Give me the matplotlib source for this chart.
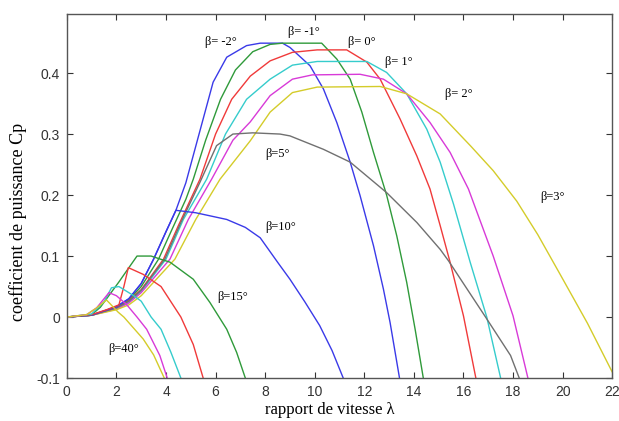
import matplotlib.pyplot as plt

# courbes Cp(lambda), une paire de listes par angle beta
lam_m2 = [0, 1, 2, 2.5, 3, 3.5, 4, 4.4, 4.8, 5.4, 5.9, 6.45, 7.25, 7.8, 8.7, 9.0, 9.81, 10.35, 10.89, 11.43, 11.83, 12.37, 12.77, 13.04, 13.42]
cp_m2 = [0, 0.003, 0.017, 0.03, 0.055, 0.095, 0.14, 0.175, 0.22, 0.31, 0.385, 0.426, 0.445, 0.449, 0.449, 0.442, 0.412, 0.374, 0.319, 0.254, 0.199, 0.117, 0.046, -0.009, -0.1]

lam_m1 = [0, 1, 2, 2.5, 3, 3.7, 4.2, 4.8, 5.1, 5.6, 6.2, 6.8, 7.5, 8.2, 8.7, 10.28, 10.89, 11.43, 11.9, 12.37, 12.9, 13.31, 13.71, 14.05, 14.38]
cp_m1 = [0, 0.003, 0.016, 0.028, 0.05, 0.095, 0.14, 0.193, 0.226, 0.29, 0.357, 0.405, 0.435, 0.447, 0.449, 0.449, 0.423, 0.39, 0.336, 0.27, 0.2, 0.133, 0.057, -0.02, -0.1]

lam_0 = [0, 1, 2, 2.5, 3, 3.9, 4.5, 5.37, 6.0, 6.65, 7.4, 8.2, 9.1, 10.1, 11.29, 12.1, 12.64, 13.44, 14.12, 14.65, 15.06, 15.46, 16.0, 16.5]
cp_0 = [0, 0.003, 0.015, 0.027, 0.045, 0.095, 0.15, 0.226, 0.3, 0.357, 0.395, 0.42, 0.434, 0.438, 0.438, 0.418, 0.39, 0.325, 0.264, 0.21, 0.15, 0.09, 0.002, -0.1]

lam_1 = [0, 1, 2, 2.5, 3, 4.0, 4.7, 5.64, 6.4, 7.25, 8.2, 9.1, 10.1, 12.1, 12.9, 13.71, 14.52, 15.06, 15.6, 16.27, 16.94, 17.5]
cp_1 = [0, 0.003, 0.014, 0.025, 0.042, 0.095, 0.16, 0.226, 0.3, 0.357, 0.39, 0.413, 0.419, 0.419, 0.401, 0.366, 0.308, 0.254, 0.185, 0.09, 0.0, -0.1]

lam_2 = [0, 1, 2, 2.5, 3, 4.16, 4.9, 5.84, 6.7, 7.4, 8.2, 9.1, 9.9, 11.83, 12.77, 13.71, 14.65, 15.46, 16.2, 17.2, 18.0, 18.6]
cp_2 = [0, 0.003, 0.013, 0.023, 0.04, 0.095, 0.16, 0.226, 0.29, 0.32, 0.363, 0.39, 0.397, 0.398, 0.39, 0.366, 0.319, 0.27, 0.21, 0.1, 0.002, -0.1]

lam_3 = [0, 1, 2, 2.5, 3, 4.36, 5.2, 6.18, 7.4, 8.2, 9.1, 10.1, 12.64, 13.71, 15.06, 16.3, 17.2, 18.15, 19.0, 19.9, 21.0, 22]
cp_3 = [0, 0.003, 0.012, 0.02, 0.035, 0.095, 0.16, 0.226, 0.289, 0.336, 0.368, 0.377, 0.378, 0.366, 0.333, 0.28, 0.24, 0.19, 0.135, 0.07, -0.01, -0.09]

lam_5 = [0, 1, 2, 2.5, 3, 3.95, 4.6, 5.37, 6.04, 6.7, 7.5, 8.6, 9.0, 10.35, 11.43, 12.9, 14.12, 15.06, 15.4, 16.94, 17.9, 18.25]
cp_5 = [0, 0.003, 0.015, 0.026, 0.044, 0.095, 0.155, 0.221, 0.281, 0.3, 0.302, 0.3, 0.297, 0.275, 0.254, 0.204, 0.155, 0.111, 0.092, -0.003, -0.063, -0.1]

lam_10 = [0, 1, 2, 2.5, 3, 3.5, 4, 4.4, 5.2, 6.45, 7.2, 7.8, 8.5, 9.0, 9.6, 10.2, 10.7, 11.15]
cp_10 = [0, 0.003, 0.017, 0.03, 0.055, 0.095, 0.14, 0.175, 0.171, 0.16, 0.147, 0.13, 0.09, 0.062, 0.025, -0.014, -0.055, -0.1]

lam_15 = [0, 1, 1.35, 2.09, 2.83, 3.4, 3.77, 4.16, 5.1, 5.77, 6.45, 6.85, 7.2]
cp_15 = [0, 0.004, 0.016, 0.057, 0.1, 0.1, 0.095, 0.09, 0.062, 0.024, -0.02, -0.058, -0.1]

lam_20 = [0, 1, 1.6, 2.1, 2.3, 2.48, 3.08, 3.8, 4.6, 5.1, 5.5]
cp_20 = [0, 0.004, 0.012, 0.02, 0.05, 0.081, 0.07, 0.05, 0.0, -0.045, -0.1]

lam_25 = [0, 1, 1.5, 1.8, 2.1, 2.7, 3.0, 3.4, 3.8, 4.2, 4.6]
cp_25 = [0, 0.005, 0.025, 0.048, 0.05, 0.035, 0.026, 0.0, -0.02, -0.058, -0.1]

lam_30 = [0, 0.8, 1.2, 1.7, 2.0, 2.4, 2.83, 3.22, 3.75, 4.05]
cp_30 = [0, 0.004, 0.015, 0.04, 0.035, 0.021, 0.0, -0.02, -0.063, -0.1]

lam_40 = [0, 0.8, 1.2, 1.6, 2.07, 2.3, 3.08, 3.5, 3.93]
cp_40 = [0, 0.004, 0.015, 0.028, 0.008, 0.0, -0.036, -0.062, -0.1]

xticks = [0, 2, 4, 6, 8, 10, 12, 14, 16, 18, 20, 22]
yticks = [-0.1, 0, 0.1, 0.2, 0.3, 0.4]

curves = [
    (lam_m2, cp_m2, '#3a3ae8'),
    (lam_m1, cp_m1, '#2f9a3a'),
    (lam_0, cp_0, '#f03a3a'),
    (lam_1, cp_1, '#35cccc'),
    (lam_2, cp_2, '#d83ad8'),
    (lam_3, cp_3, '#d4cc2a'),
    (lam_5, cp_5, '#707070'),
    (lam_10, cp_10, '#3a3ae8'),
    (lam_15, cp_15, '#2f9a3a'),
    (lam_20, cp_20, '#f03a3a'),
    (lam_25, cp_25, '#35cccc'),
    (lam_30, cp_30, '#d83ad8'),
    (lam_40, cp_40, '#d4cc2a'),
]

# etiquettes: (texte, lambda, Cp)
labels = [
    ('β= -2°', 5.57, 0.451),
    ('β= -1°', 8.92, 0.467),
    ('β= 0°', 11.34, 0.451),
    ('β= 1°', 12.84, 0.418),
    ('β= 2°', 15.26, 0.366),
    ('β=3°', 19.1, 0.197),
    ('β=5°', 8.0, 0.267),
    ('β=10°', 8.0, 0.147),
    ('β=15°', 6.05, 0.033),
    ('β=40°', 1.66, -0.052),
]

fig = plt.figure(figsize=(6.19, 4.21), dpi=100)
ax = fig.add_axes([0.108, 0.102, 0.881, 0.865])

for lam, cp, col in curves:
    ax.plot(lam, cp, color=col, lw=1.0)

for txt, x, y in labels:
    ax.text(x, y, txt, fontsize=9, family='Liberation Serif', va='center', ha='left')

ax.set_xlim(0, 22)
ax.set_ylim(-0.1, 0.497)
ax.set_xticks(xticks)
ax.set_xticklabels([str(t) for t in xticks])
ax.set_yticks(yticks)
ax.set_yticklabels(['-0.1', '0', '0.1', '0.2', '0.3', '0.4'])
ax.tick_params(direction='in', top=True, right=True, length=4, width=0.8,
               labelsize=10, colors='#333333', pad=5)
for lab in ax.get_xticklabels() + ax.get_yticklabels():
    lab.set_family('Liberation Sans')
for s in ax.spines.values():
    s.set_color('#555555')
    s.set_linewidth(1.0)

ax.set_xlabel('rapport de vitesse λ', family='Liberation Serif', fontsize=12)
ax.set_ylabel('coefficient de puissance Cp', family='Liberation Serif', fontsize=13)
ax.xaxis.set_label_coords(0.483, -0.065)
ax.yaxis.set_label_coords(-0.073, 0.43)

fig.savefig('out.png', dpi=100)
